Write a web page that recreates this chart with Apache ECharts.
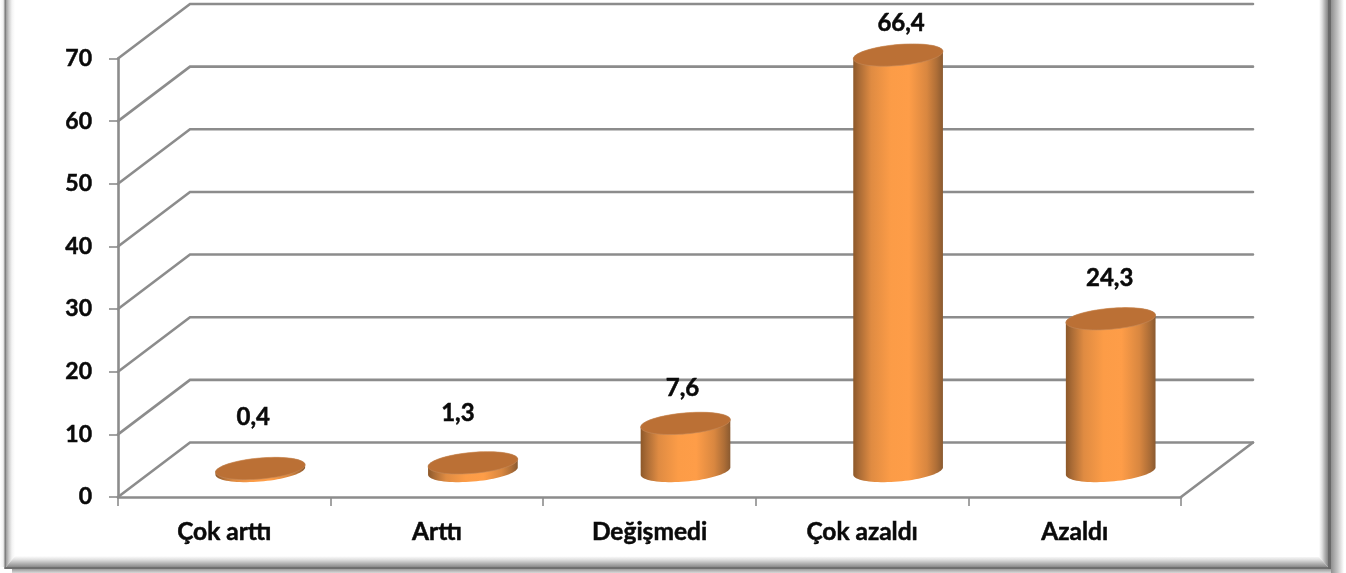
<!DOCTYPE html>
<html><head><meta charset="utf-8">
<style>html,body{margin:0;padding:0;background:#fff}#c{width:1346px;height:573px}</style>
<script src="https://cdn.jsdelivr.net/npm/echarts@6/dist/echarts.min.js"></script>
</head><body><div id="c"></div>
<script>
const categories = ['Çok arttı','Arttı','Değişmedi','Çok azaldı','Azaldı'];
const values = [0.4,1.3,7.6,66.4,24.3];
const valueLabels = ['0,4','1,3','7,6','66,4','24,3'];
const yTicks = [0,10,20,30,40,50,60,70];

// placement of the hand-positioned data labels, relative to the cylinder top
const labelDx = [-7,-15,-3,3,-1];
const labelDy = [-51,-50,-35,-32,-41];

const FONT = 'Lato, "Open Sans", sans-serif';
const DEPTH_X = 72, DEPTH_Y = -54.5;   // floor depth of the 3D box
const MID_X = 36, MID_Y = -26;         // cylinder axis sits mid-depth
const RX = 45, RY = 10.5, TILT = -5 * Math.PI / 180;
const GRID = '#8c8c8c';
const INK = '#0a0a0a';

function ell(cx, cy, t) {
  const c = Math.cos(t), s = Math.sin(t);
  return [cx + RX * c * Math.cos(TILT) - RY * s * Math.sin(TILT),
          cy + RX * c * Math.sin(TILT) + RY * s * Math.cos(TILT)];
}
function ellPts(cx, cy, t0, t1, n) {
  const p = [];
  for (let i = 0; i <= n; i++) p.push(ell(cx, cy, t0 + (t1 - t0) * i / n));
  return p;
}
const T0 = Math.atan2(-RY * Math.sin(TILT), RX * Math.cos(TILT));

function renderWall(params, api) {
  const cs = params.coordSys;
  const y = api.coord([0, api.value(0)])[1];
  const l = cs.x, r = cs.x + cs.width;
  const style = {stroke: GRID, lineWidth: 2.6, fill: null, lineCap: 'round'};
  const kids = [
    {type:'polyline', shape:{points:[[l,y],[l+DEPTH_X,y+DEPTH_Y],[r+DEPTH_X,y+DEPTH_Y]]}, style}
  ];
  if (api.value(0) === 0) {
    kids.push({type:'line', shape:{x1:r,y1:y,x2:r+DEPTH_X,y2:y+DEPTH_Y}, style});
  }
  return {type:'group', children:kids};
}

function renderCyl(params, api) {
  const i = api.value(0), v = api.value(1);
  const base = api.coord([i, 0]), top = api.coord([i, v]);
  const cx = base[0] + MID_X, by = base[1] + MID_Y, ty = top[1] + MID_Y;
  const body = ellPts(cx, by, T0, T0 + Math.PI, 40).concat(ellPts(cx, ty, T0 + Math.PI, T0 + 2 * Math.PI, 40));
  return {type:'group', children:[
    {type:'polygon', shape:{points:body}, style:{fill:{type:'linear',x:0,y:0,x2:1,y2:0,colorStops:[
      {offset:0,color:'#8d5829'},{offset:.07,color:'#ab6c36'},{offset:.2,color:'#df8b42'},
      {offset:.42,color:'#fc9c47'},{offset:.62,color:'#fe9d48'},{offset:.82,color:'#d98740'},
      {offset:.93,color:'#ae6e37'},{offset:1,color:'#8a5a30'}]}}},
    {type:'polygon', shape:{points:ellPts(cx, ty, 0, 2 * Math.PI, 72)}, style:{fill:'#bb7035', stroke:'#c58a5a', lineWidth:0.6}},
    {type:'text', x:cx + labelDx[i], y:ty + labelDy[i], style:{text:valueLabels[i], fill:INK,
      stroke:INK, lineWidth:0.5, font:'bold 24px ' + FONT, align:'center', verticalAlign:'middle'}}
  ]};
}

function poly(points, g) { return {type:'polygon', silent:true, z:0, shape:{points}, style:{fill:g}}; }
function grad(x2, y2, stops) {
  return {type:'linear', x:0, y:0, x2, y2, colorStops:stops.map((c,i)=>({offset:i/(stops.length-1),color:c}))};
}
const W = 1346, H = 573;
const frame = [
  // outer soft shadow
  {type:'rect', silent:true, shape:{x:1331,y:0,width:13,height:H}, style:{fill:grad(1,0,['#8f8f8f','#c4c4c4','#ffffff'])}},
  {type:'rect', silent:true, shape:{x:12,y:569,width:1319,height:4}, style:{fill:grad(0,1,['#9a9a9a','#d8d8d8'])}},
  {type:'rect', silent:true, shape:{x:0,y:0,width:5,height:567}, style:{fill:grad(1,0,['#ffffff','#f4f4f4','#c9c9c9'])}},
  // bevels
  poly([[6,0],[15,0],[15,556],[6,567]], grad(1,0,['#9a9a9a','#cfcfcf','#f4f4f4','#ffffff'])),
  poly([[1319,0],[1328,0],[1328,567],[1319,557]], grad(1,0,['#ffffff','#e0e0e0','#b0b0b0','#858585'])),
  poly([[6,567],[15,556],[1319,557],[1328,567]], grad(0,1,['#ffffff','#e0e0e0','#b4b4b4','#8a8a8a'])),
  // dark rim
  {type:'rect', silent:true, shape:{x:4.5,y:0,width:1.5,height:569}, style:{fill:'#7f7f7f'}},
  {type:'rect', silent:true, shape:{x:4.5,y:567,width:1326.5,height:2}, style:{fill:'#6f6f6f'}},
  {type:'rect', silent:true, shape:{x:1328,y:0,width:3,height:569}, style:{fill:'#6a6a6a'}}
];

const chart = echarts.init(document.getElementById('c'), null, {renderer:'canvas', width:W, height:H});
chart.setOption({
  animation:false,
  backgroundColor:'#ffffff',
  graphic:{elements:frame},
  grid:{left:118, right:165, top:58.5, bottom:76, containLabel:false},
  xAxis:{type:'category', data:categories, boundaryGap:true,
    axisLine:{lineStyle:{color:GRID,width:2.6}},
    axisTick:{show:true, alignWithLabel:false, length:9, lineStyle:{color:GRID,width:1.6}},
    axisLabel:{color:INK, fontFamily:FONT, fontWeight:'bold', fontSize:24.5, margin:23,
      textBorderColor:INK, textBorderWidth:0.5}},
  yAxis:{type:'value', min:0, max:70, interval:10,
    axisLine:{show:true,lineStyle:{color:GRID,width:2.6}},
    axisTick:{show:true,length:9,lineStyle:{color:GRID,width:1.6}},
    splitLine:{show:false},
    axisLabel:{color:INK, fontFamily:FONT, fontWeight:'bold', fontSize:23, margin:26,
      textBorderColor:INK, textBorderWidth:0.5}},
  series:[
    {type:'custom', name:'walls', coordinateSystem:'cartesian2d', clip:false, silent:true, z:1,
     renderItem:renderWall, encode:{y:0}, data:yTicks.map(v=>[v])},
    {type:'custom', name:'values', coordinateSystem:'cartesian2d', clip:false, silent:true, z:3,
     renderItem:renderCyl, encode:{x:0,y:1}, data:values.map((v,i)=>[i,v])}
  ]
});
</script></body></html>
